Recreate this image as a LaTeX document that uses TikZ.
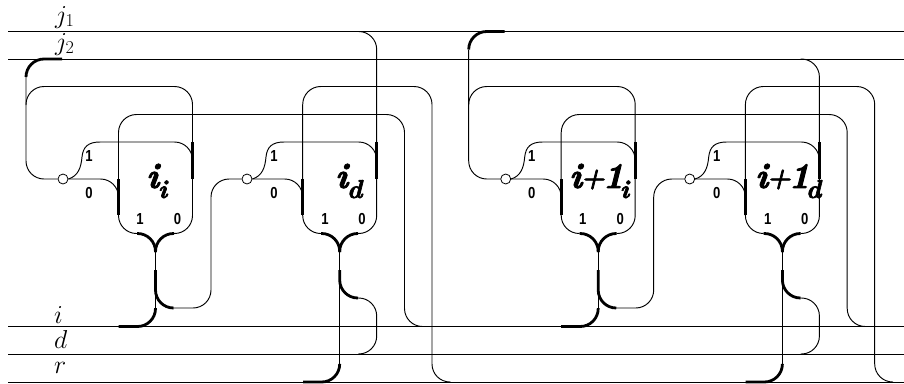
\documentclass[tikz,border=0pt]{standalone}
\usepackage{fix-cm}
\usepackage{fontspec}
\newfontfamily\digitfont[FakeStretch=0.82]{Liberation Sans}
\newfontfamily\blockfont[Extension=.otf,FakeBold=2.5]{lmroman10-bolditalic}
\tikzset{
  wire/.style={draw=black,line width=0.95bp,rounded corners=18bp},
  thick wire/.style={draw=black,line width=2.8bp,rounded corners=18bp},
  bar/.style={draw=black,line width=2.8bp},
  stem/.style={draw=black,line width=0.95bp},
  sw/.style={circle,draw=black,line width=0.8bp,fill=none,inner sep=0pt,minimum size=10bp},
  bit/.style={inner sep=0pt,font=\fontsize{16}{16}\bfseries\digitfont},
  siglabel/.style={inner sep=0pt,anchor=base west,font=\fontsize{26}{30}\selectfont},
  blocklabel/.style={inner sep=0pt,anchor=base west},
}
\newcommand{\subsc}[1]{\raisebox{-10bp}{\fontsize{26}{26}\blockfont #1}}
\newcommand{\blk}[2]{{\fontsize{36}{36}\blockfont #1}\kern-1bp\subsc{#2}}
\newcommand{\blkp}[1]{{\fontsize{36}{36}\blockfont i}\kern-1.5bp\raisebox{1.5bp}{\fontsize{28}{28}\blockfont +}\kern-2.5bp{\fontsize{36}{36}\blockfont 1}\kern-4bp\subsc{#1}}
% #1 prefix, #2 x shift, #3 y of the line tapped on the left, #4 y of the line tapped on the right
\newcommand{\wirepair}[4]{%
\begin{scope}[xshift=#2bp]
  % switches
  \node[sw] (#1a) at (63,179) {};
  \node[sw] (#1b) at (247,179) {};
  % left cell input
  \coordinate (#1in) at (26,#3);
  \coordinate (#1ie) at ([yshift=-18bp]#1in);
  \draw[thick wire] (62,#3) -- (#1in) -- (#1ie);
  \draw[wire] (#1ie) -- (26,179) -- (#1a.west);
  \draw[wire] (26,105) -- (26,86.5) -- (192.5,86.5) -- (192.5,233.5) -- (174,233.5);
  \draw[wire] (118.5,215) -- (118.5,114.5) -- (404.5,114.5) -- (404.5,326.5) -- (423,326.5);
  \draw[wire] (302.7,215) -- (302.7,86.5) -- (432,86.5) -- (432,382) -- (450.5,382);
  % left cell switch branches
  \draw[stem] (#1a.east) .. controls (78,176) and (81,168) .. (82,157) .. controls (83,147) and (88,142) .. (100,142);
  \draw[wire] (100,142) -- (192.5,142) -- (192.5,160);
  \draw[wire] (#1a.east) -- (118.5,179) -- (118.5,197);
  \draw[bar] (192.5,142) -- (192.5,179);
  \draw[bar] (118.5,179) -- (118.5,215);
  \draw[wire] (118.5,215) -- (118.5,233.5) -- (137,233.5);
  \draw[thick wire] (137,233.5) -- (155.5,233.5) -- (155.5,252);
  \draw[thick wire] (174,233.5) -- (155.5,233.5) -- (155.5,252);
  % left cell output
  \draw[stem] (155.5,252) -- (155.5,308);
  \draw[thick wire] (155.5,270) -- (155.5,308) -- (173.5,308);
  \draw[thick wire] (155.5,308) -- (155.5,326.5) -- (118.5,326.5);
  \draw[wire] (173.5,308) -- (211,308) -- (211,179) -- (#1b.west);
  % right cell switch branches
  \draw[stem] (#1b.east) .. controls (262,176) and (265,168) .. (266,157) .. controls (267,147) and (272,142) .. (284,142);
  \draw[wire] (284,142) -- (376.7,142) -- (376.7,160);
  \draw[wire] (#1b.east) -- (302.7,179) -- (302.7,197);
  \draw[bar] (376.7,142) -- (376.7,179);
  \draw[bar] (302.7,179) -- (302.7,215);
  \draw[wire] (302.7,215) -- (302.7,233.5) -- (321,233.5);
  \draw[thick wire] (321,233.5) -- (339.7,233.5) -- (339.7,252);
  \draw[thick wire] (358,233.5) -- (339.7,233.5) -- (339.7,252);
  \draw[wire] (358,#4) -- (376.7,#4) -- (376.7,233.5) -- (358,233.5);
  % right cell output
  \draw[stem] (339.7,252) -- (339.7,364);
  \draw[thick wire] (339.7,270) -- (339.7,298) -- (358,298);
  \draw[wire] (358,298) -- (376.7,298) -- (376.7,354) -- (358,354);
  \draw[thick wire] (339.7,364) -- (339.7,382) -- (303,382);
  % bit labels
  \node[bit] (#1p) at (89,156) {1};
  \node[bit] (#1q) at (89,193) {0};
  \node[bit] (#1r) at (140,219) {1};
  \node[bit] (#1s) at (177.5,219) {0};
  \node[bit] (#1t) at (274,156) {1};
  \node[bit] (#1u) at (274,193) {0};
  \node[bit] (#1v) at (325,219) {1};
  \node[bit] (#1w) at (362,219) {0};
\end{scope}}
\begin{document}
\begin{tikzpicture}[x=1bp,y=-1bp]
  \useasboundingbox (0,0) rectangle (904,383);
  % bus lines
  \foreach \yy in {31.5,59,326.5,354.3,382}{
    \draw[wire] (8,\yy) -- (904,\yy);
  }
  \node[siglabel] (lj1) at (55,23) {$j_1$};
  \node[siglabel] (lj2) at (55,50) {$j_2$};
  \node[siglabel] (li) at (54,323) {$i$};
  \node[siglabel] (ld) at (54,348) {$d$};
  \node[siglabel] (lr) at (54,373) {$r$};
  \wirepair{A}{0}{59}{31.5}
  \wirepair{C}{442.7}{31.5}{59}
  \node[blocklabel] (Am) at (146,188) {\blk{i}{i}};
  \node[blocklabel] (Bm) at (335,188) {\blk{i}{d}};
  \node[blocklabel] (Cm) at (569,188) {\blkp{i}};
  \node[blocklabel] (Dm) at (755,188) {\blkp{d}};
\end{tikzpicture}
\end{document}
